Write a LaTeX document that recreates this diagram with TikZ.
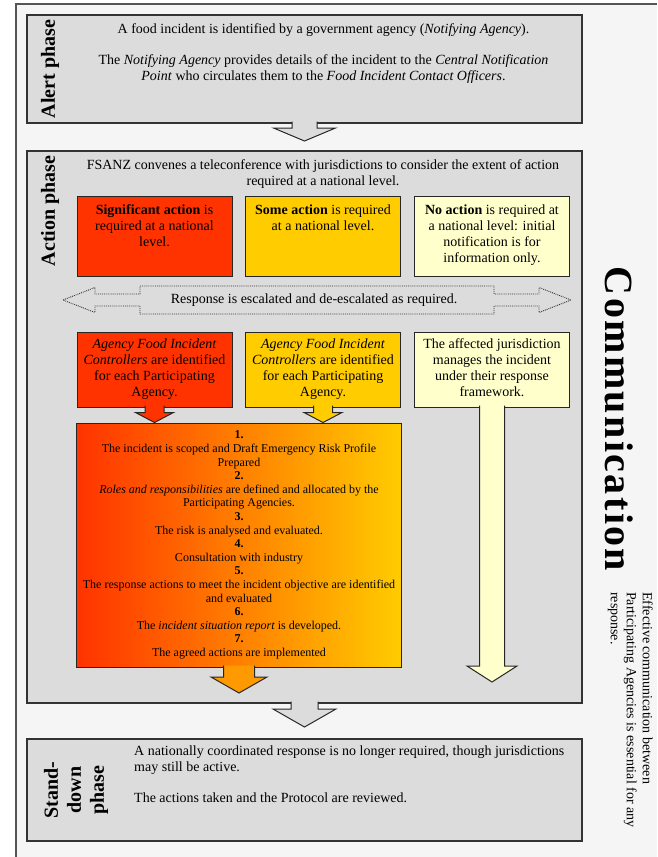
\documentclass[tikz,border=0pt]{standalone}
\usepackage{fontspec}
\setmainfont{Liberation Serif}
\newfontfamily\commfont[LetterSpace=6]{Liberation Serif}
\usetikzlibrary{calc,positioning}

\definecolor{pagebg}{HTML}{F5F5F5}
\definecolor{phasegray}{HTML}{DCDCDC}
\definecolor{framegray}{HTML}{555555}
\definecolor{sigred}{HTML}{FF3300}
\definecolor{someorange}{HTML}{FFCC00}
\definecolor{midorange}{HTML}{FF9900}
\definecolor{nopale}{HTML}{FFFFCC}

\newcommand{\blockdown}[6]{%
	\filldraw[blockarrow, fill=#6] let \p1=(#1), \p2=(#2) in
		({\x2-#3pt},{\y1+2pt}) -- ({\x2-#3pt},{\y2+#5pt}) -- ({\x2-#4pt},{\y2+#5pt}) -- (\x2,\y2)
		-- ({\x2+#4pt},{\y2+#5pt}) -- ({\x2+#3pt},{\y2+#5pt}) -- ({\x2+#3pt},{\y1+2pt});
}

\begin{document}
\begin{tikzpicture}[x=1pt, y=-1pt,
		phasebox/.style={draw=black!80, line width=1.3pt, fill=phasegray, minimum width=555pt},
		phaselbl/.style={font=\fontsize{20}{23}\selectfont\bfseries, inner sep=0pt, align=center, rotate=90},
		bodytxt/.style={font=\fontsize{14}{16}\selectfont, inner sep=0pt},
		colbox/.style={draw=black!85, line width=1pt, minimum width=155pt},
		boxtxt/.style={font=\fontsize{14}{16}\selectfont, inner sep=0pt, align=center},
		stepsbox/.style={draw=black!85, line width=1pt, left color=sigred, middle color=midorange, right color=someorange,
			minimum width=325pt, minimum height=244pt, align=center, inner sep=0pt, font=\fontsize{12}{13.6}\selectfont},
		blockarrow/.style={draw=black!85, line width=1pt},
		escarrow/.style={draw=black!80, densely dotted, line width=0.9pt, fill=phasegray}]
	\useasboundingbox (0,0) rectangle (657,857);
	\fill[pagebg] (16,4) rectangle (657,857);
	\draw[framegray, line width=2pt] (657,4) -- (16,4) -- (16,857);

	\node[phasebox, minimum height=108pt] (alert) at (304.5,69) {};
	\node[phaselbl] (alertlbl) at (50,69) {Alert phase};
	\node[bodytxt, align=center] (alerttxt) at (323.5,54) {A food incident is identified by a government agency (\textit{Notifying Agency}).\\[15pt]
		The \textit{Notifying Agency} provides details of the incident to the \textit{Central Notification}\\
		\textit{Point} who circulates them to the \textit{Food Incident Contact Officers}.};
	\coordinate (alerttip) at (304.5,141);
	\blockdown{alert.south}{alerttip}{12.5}{31}{13}{phasegray}

	\node[phasebox, minimum height=552pt] (action) at (304.5,427) {};
	\node[phaselbl] (actionlbl) at (50,211) {Action phase};
	\node[bodytxt, align=center] (fsanz) at (323,174) {FSANZ convenes a teleconference with jurisdictions to consider the extent of action\\required at a national level.};

	\foreach \nm/\cx/\col in {sig/154.5/sigred, some/323/someorange, no/492/nopale} {
		\node[colbox, fill=\col, minimum height=80pt] (\nm-box) at (\cx,236) {};
		\node[colbox, fill=\col, minimum height=75pt] (\nm-ctl) at (\cx,369.5) {};
	}
	\node[boxtxt, below=9pt of sig-box.north] (sigtxt) {\textbf{Significant action} is\\required at a national\\level.};
	\node[boxtxt, below=9pt of some-box.north] (sometxt) {\textbf{Some action} is required\\at a national level.};
	\node[boxtxt, below=9pt of no-box.north] (notxt) {\textbf{No action} is required at\\a national level: initial\\notification is for\\information only.};

	\coordinate (escmid) at (317,300);
	\filldraw[escarrow, shift={(escmid)}] (-177,-14) -- (177,-14) -- (177,-6) -- (222,-6) -- (222,-12.5) -- (254,0)
		-- (222,12.5) -- (222,6) -- (177,6) -- (177,14) -- (-177,14) -- (-177,6) -- (-222,6) -- (-222,12.5)
		-- (-254,0) -- (-222,-12.5) -- (-222,-6) -- (-177,-6) -- cycle;
	\node[bodytxt] (escal) at (314,300) {Response is escalated and de-escalated as required.};

	\node[boxtxt, below=7pt of sig-ctl.north] (sigctltxt) {\textit{Agency Food Incident}\\\textit{Controllers} are identified\\for each Participating\\Agency.};
	\node[boxtxt, below=7pt of some-ctl.north] (somectltxt) {\textit{Agency Food Incident}\\\textit{Controllers} are identified\\for each Participating\\Agency.};
	\node[boxtxt, below=7pt of no-ctl.north] (noctltxt) {The affected jurisdiction\\manages the incident\\under their response\\framework.};

	\node[stepsbox] (steps) at (239,545) {\textbf{1.}\\The incident is scoped and Draft Emergency Risk Profile\\Prepared\\
		\textbf{2.}\\\textit{Roles and responsibilities} are defined and allocated by the\\Participating Agencies.\\
		\textbf{3.}\\The risk is analysed and evaluated.\\
		\textbf{4.}\\Consultation with industry\\
		\textbf{5.}\\The response actions to meet the incident objective are identified\\and evaluated\\
		\textbf{6.}\\The \textit{incident situation report} is developed.\\
		\textbf{7.}\\The agreed actions are implemented};

	\blockdown{sig-ctl.south}{sig-ctl.south |- steps.north}{9.5}{19}{10}{sigred}
	\blockdown{some-ctl.south}{some-ctl.south |- steps.north}{9.5}{19}{10}{someorange}
	\coordinate (jurtip) at (492,682);
	\blockdown{no-ctl.south}{jurtip}{12.5}{25}{16}{nopale}
	\coordinate (stepstip) at (239,693);
	\blockdown{steps.south}{stepstip}{15.5}{28}{16}{midorange}
	\coordinate (actiontip) at (304.5,727);
	\blockdown{action.south}{actiontip}{13.5}{31.5}{18}{phasegray}

	\node[phasebox, minimum height=102pt] (standdown) at (304.5,790) {};
	\node[phaselbl] (standlbl) at (76,790) {Stand-\\down\\phase};
	\node[bodytxt, align=left, anchor=north west] (standtxt) at (134,745.5) {A nationally coordinated response is no longer required, though jurisdictions\\may still be active.\\[15pt]The actions taken and the Protocol are reviewed.};

	\node[rotate=-90, inner sep=0pt, font=\commfont\bfseries\fontsize{40}{40}\selectfont] (commtitle) at (619,419) {Communication};
	\node[rotate=-90, anchor=north west, inner sep=0pt, align=left, font=\fontsize{14}{16}\selectfont] (commnote) at (653,592) {Effective communication between\\Participating Agencies is essential for any\\response.};
\end{tikzpicture}
\end{document}
